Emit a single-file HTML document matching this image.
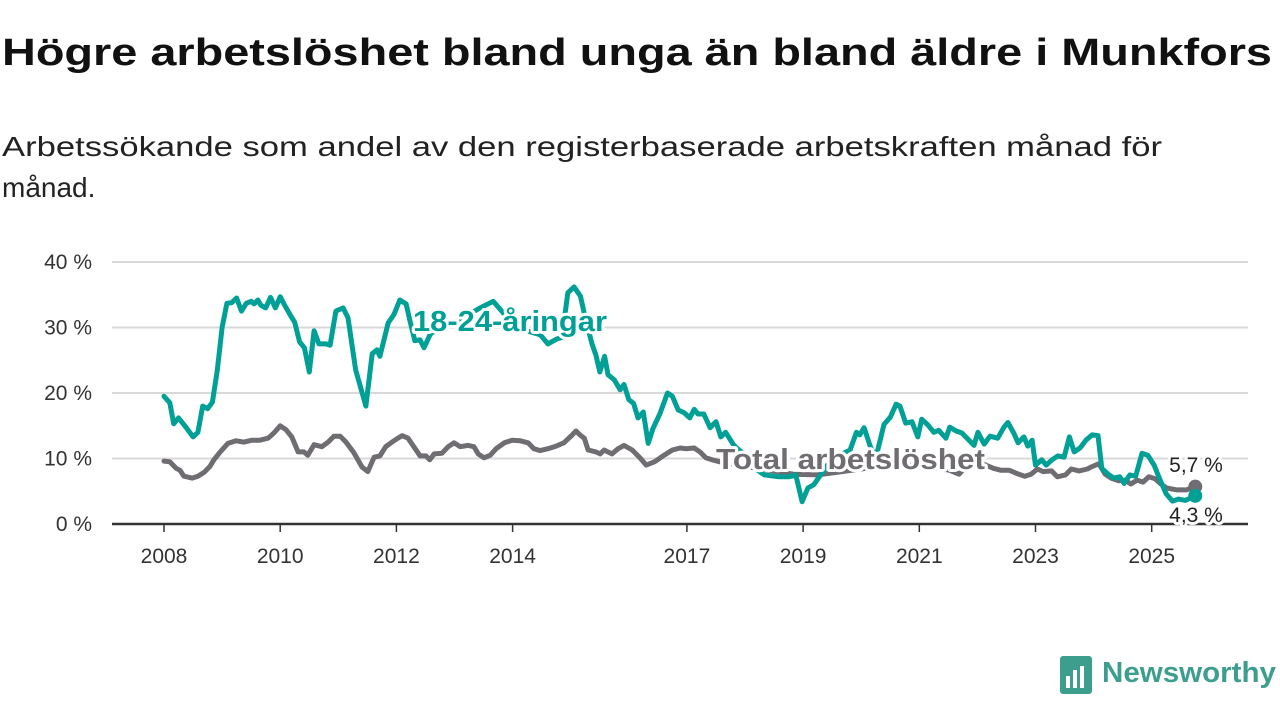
<!DOCTYPE html>
<html><head><meta charset="utf-8"><style>
html,body{margin:0;padding:0;background:#fff;width:1280px;height:720px;overflow:hidden}
svg text{font-family:"Liberation Sans","DejaVu Sans",sans-serif}
</style></head><body>
<svg id="chart" width="1280" height="720" viewBox="0 0 1280 720" xmlns="http://www.w3.org/2000/svg">
<text x="2" y="65" font-size="38" font-weight="bold" fill="#111" textLength="1270" lengthAdjust="spacingAndGlyphs">Högre arbetslöshet bland unga än bland äldre i Munkfors</text>
<text x="2" y="156" font-size="28" fill="#222" textLength="1160" lengthAdjust="spacingAndGlyphs">Arbetssökande som andel av den registerbaserade arbetskraften månad för</text>
<text x="2" y="197" font-size="28" fill="#222">månad.</text>
<g id="grid"></g>
<g id="yaxis"></g>
<g id="xaxis"></g>
<g id="series"></g>
<g id="labels"></g>
<g>
<rect x="1060" y="656" width="32" height="38" rx="3" fill="#3e9e8e"/>
<rect x="1066" y="676" width="4" height="12" fill="#fff"/>
<rect x="1073" y="670" width="4" height="18" fill="#fff"/>
<rect x="1080" y="666" width="4" height="22" fill="#fff"/>
<text x="1102" y="682" font-size="29" font-weight="bold" fill="#3e9e8e" textLength="174" lengthAdjust="spacingAndGlyphs">Newsworthy</text>
</g>
</svg>
<script>
const yTicks=[0,10,20,30,40];
const yTickLabels=["0 %","10 %","20 %","30 %","40 %"];
const xTickYears=[2008,2010,2012,2014,2017,2019,2021,2023,2025];
const youthMonths=[0,1.2,2,3,4.5,6,7,8,9,10,11,12,13,14,15,16,17,18,18.6,19.4,20,21,22,23,24,25,26,27,28,29,30,31,32,33.5,34.3,35.5,37,38,39.6,41.7,43,44,44.6,46.3,47.5,48.7,50,50.8,51.8,52.9,53.7,55,57,60,63,65.3,68,71.5,73.5,77.7,79.3,81,82.2,83.4,84.7,86,87,88.4,89.2,90,91,91.7,93,94.2,95,96,97,97.9,99,100,101,102.4,104,105,106.2,107.4,108.6,109.5,110.3,111.5,112.8,114,115,116,117.7,120,122,124,127,129,130.5,131.8,133,134.2,135.9,137,139.6,141.7,143,143.7,144.6,145.8,147,148.7,150,151.2,152,153.2,154.5,155.7,156.5,157.8,159,160,161.5,162.3,163.6,164.8,166,167.3,168.1,169.4,170.6,172.2,173.5,174.3,175.5,176.4,177.6,178.4,179.3,180,181.3,182.2,183.4,184.6,185.9,187,188,189.2,190.4,191.7,192.9,193.7,195,196.2,197.4,198.3,199.5,200.7,202,203.2,204.5,205.7,207,208.3,209.5,211,213];
const youthValues=[19.5,18.5,15.3,16.2,14.8,13.3,14,18,17.6,18.6,23.5,30,33.7,33.8,34.5,32.5,33.7,34,33.6,34.2,33.4,33,34.6,33,34.7,33.3,32,30.8,27.8,26.9,23.2,29.5,27.5,27.5,27.3,32.5,33,31.5,23.5,18,26,26.6,25.6,30.7,32,34.2,33.6,31,28,28.1,26.9,29,30,30.8,32,33,34,31,29.8,28.9,27.5,28.2,28.5,35.3,36.2,34.8,31.5,27.5,25.8,23.2,25.6,22.8,22,20.5,21.3,19,18.4,16.2,17.1,12.3,14.6,16.8,20,19.5,17.4,17,16.2,17.5,16.8,16.8,14.7,15.6,13.3,14,12,10.5,8.5,7.5,7.2,7.2,7.5,3.4,5.5,6,7.8,9,10.5,11.3,14,13.6,14.7,12,10,15.2,16.3,18.3,18,15.4,15.6,13.3,16,15.1,14,14.3,13.1,14.8,14.2,13.9,13,12,14,12.2,13.4,13.1,14.8,15.5,13.9,12.4,13.3,11.9,12.8,9,9.8,9,9.8,10.4,10.2,13.3,11,11.6,12.8,13.6,13.5,8.5,7.6,7,7.2,6.2,7.5,7.3,10.8,10.5,9,6.8,4.6,3.5,3.8,3.6,4.3];
const totalMonths=[0,1.2,2.5,3.3,4.1,5.8,7,8.3,9.5,10.3,11.6,13.2,14.9,16.5,18.2,19.8,21.5,22.7,24,25.2,26.4,27.7,28.9,29.7,31,32.6,33.9,35.1,36.4,37.6,39.2,40.9,42.1,43.4,44.6,45.8,47.1,48.3,49.2,50.4,51.6,52.9,54.1,54.9,55.8,57.4,58.7,59.9,61.2,62.8,64,64.9,66.1,67.4,68.6,70.3,71.9,73.6,75.2,76.4,77.7,79.3,81,82.6,84.3,85.1,85.9,86.8,87.6,89.2,90.1,90.9,92.5,93.8,95,96.7,98.3,99.6,101.3,103.3,105,106.6,107.8,109.5,110.7,111.9,113.2,114.8,120,125,130,135,140,145,150,155,160,162.3,164.2,165.9,168.4,170,171.3,172.9,174.6,176.2,177.8,179.1,180.4,181.6,183.3,184.5,186.2,187.4,189,190.7,191.5,193.1,194.4,195.6,197.2,198.5,199.7,201,202.2,203.4,204.7,205.9,207.1,209.2,211.2,213];
const totalValues=[9.6,9.5,8.5,8.2,7.3,7,7.3,7.9,8.8,9.8,11,12.3,12.7,12.5,12.8,12.8,13.1,13.9,15,14.4,13.3,11,11,10.5,12.1,11.8,12.5,13.4,13.4,12.5,10.9,8.7,8,10.2,10.4,11.8,12.5,13.1,13.5,13.1,11.8,10.4,10.4,9.8,10.7,10.8,11.8,12.4,11.8,12,11.8,10.7,10.1,10.5,11.5,12.4,12.8,12.7,12.4,11.5,11.2,11.5,11.9,12.4,13.6,14.2,13.6,13.1,11.3,11,10.7,11.3,10.7,11.5,12,11.3,10.1,9,9.5,10.5,11.3,11.6,11.5,11.6,11,10.1,9.8,9.5,8.8,8.2,7.6,7.5,8,8.5,9,9,8.5,8.2,7.6,9,9.5,8.9,8.5,8.2,8.2,7.7,7.3,7.6,8.4,8,8.1,7.2,7.5,8.4,8.1,8.4,8.7,9.2,7.6,7,6.6,6.7,6.1,6.7,6.4,7.2,6.9,6.1,5.5,5.2,5.2,5.7];
const NS="http://www.w3.org/2000/svg";
const X0=164,PX_PER_YEAR=58.1,Y0=524,PX_PER_PCT=6.55,LEFT=112,RIGHT=1248;
function xYear(y){return X0+(y-2008)*PX_PER_YEAR;}
function xMonth(m){return xYear(2008+m/12);}
function yVal(v){return Y0-v*PX_PER_PCT;}
function mk(tag,attrs,parent){const e=document.createElementNS(NS,tag);for(const k in attrs)e.setAttribute(k,attrs[k]);parent.appendChild(e);return e;}
const grid=document.getElementById('grid'),ya=document.getElementById('yaxis'),xa=document.getElementById('xaxis'),ser=document.getElementById('series'),lab=document.getElementById('labels');
yTicks.forEach((t,i)=>{
  if(t>0){const g=mk('line',{x1:LEFT,x2:RIGHT,y1:yVal(t),y2:yVal(t),stroke:'#d9d9d9','stroke-width':2},grid);
  
  }
  const tx=mk('text',{x:92,y:yVal(t)+7,'font-size':21,fill:'#333','text-anchor':'end'},ya);
  tx.textContent=yTickLabels[i];
  
  
});
xTickYears.forEach(yr=>{
  const l=mk('line',{x1:xYear(yr),x2:xYear(yr),y1:Y0,y2:Y0+8,stroke:'#333','stroke-width':1.5},xa);
  
  
  const t=mk('text',{x:xYear(yr),y:Y0+39,'font-size':21,fill:'#333','text-anchor':'middle'},xa);
  t.textContent=String(yr);
  
  
});
const base=mk('line',{x1:LEFT,x2:RIGHT,y1:Y0,y2:Y0,stroke:'#333','stroke-width':2.5},xa);


function path(ms,vs,color,name){
  const d=ms.map((m,i)=>(i?'L':'M')+xMonth(m).toFixed(1)+','+yVal(vs[i]).toFixed(1)).join('');
  const p=mk('path',{d:d,fill:'none',stroke:color,'stroke-width':5,'stroke-linejoin':'round','stroke-linecap':'round'},ser);
  
  
  const n=ms.length-1;
  const c=mk('circle',{cx:xMonth(ms[n]),cy:yVal(vs[n]),r:7,fill:color},ser);
  
  
}
path(totalMonths,totalValues,'#6f6c72','total-line');
path(youthMonths,youthValues,'#00a096','youth-line');
function label(txt,x,y,size,color,bold,name,anchor,len){
  const a={x:x,y:y,'font-size':size,fill:color,'font-weight':bold?'bold':'normal',stroke:'#fff','stroke-width':6,'paint-order':'stroke','stroke-linejoin':'round','text-anchor':anchor||'start'};
  if(len){a.textLength=len;a.lengthAdjust='spacingAndGlyphs';}
  const t=mk('text',a,lab);
  t.textContent=txt;
  
  
}
label('18-24-åringar',413,331,29,'#00a096',true,'youth-series-label','start',194);
label('Total arbetslöshet',716,469,29,'#6f6c72',true,'total-series-label','start',269);
const nT=totalValues.length-1,nY=youthValues.length-1;
label(totalValues[nT].toFixed(1).replace('.',',')+' %',1196,472,21,'#222',false,'total-end-value','middle');
label(youthValues[nY].toFixed(1).replace('.',',')+' %',1196,522,21,'#222',false,'youth-end-value','middle');
</script>
</body></html>
